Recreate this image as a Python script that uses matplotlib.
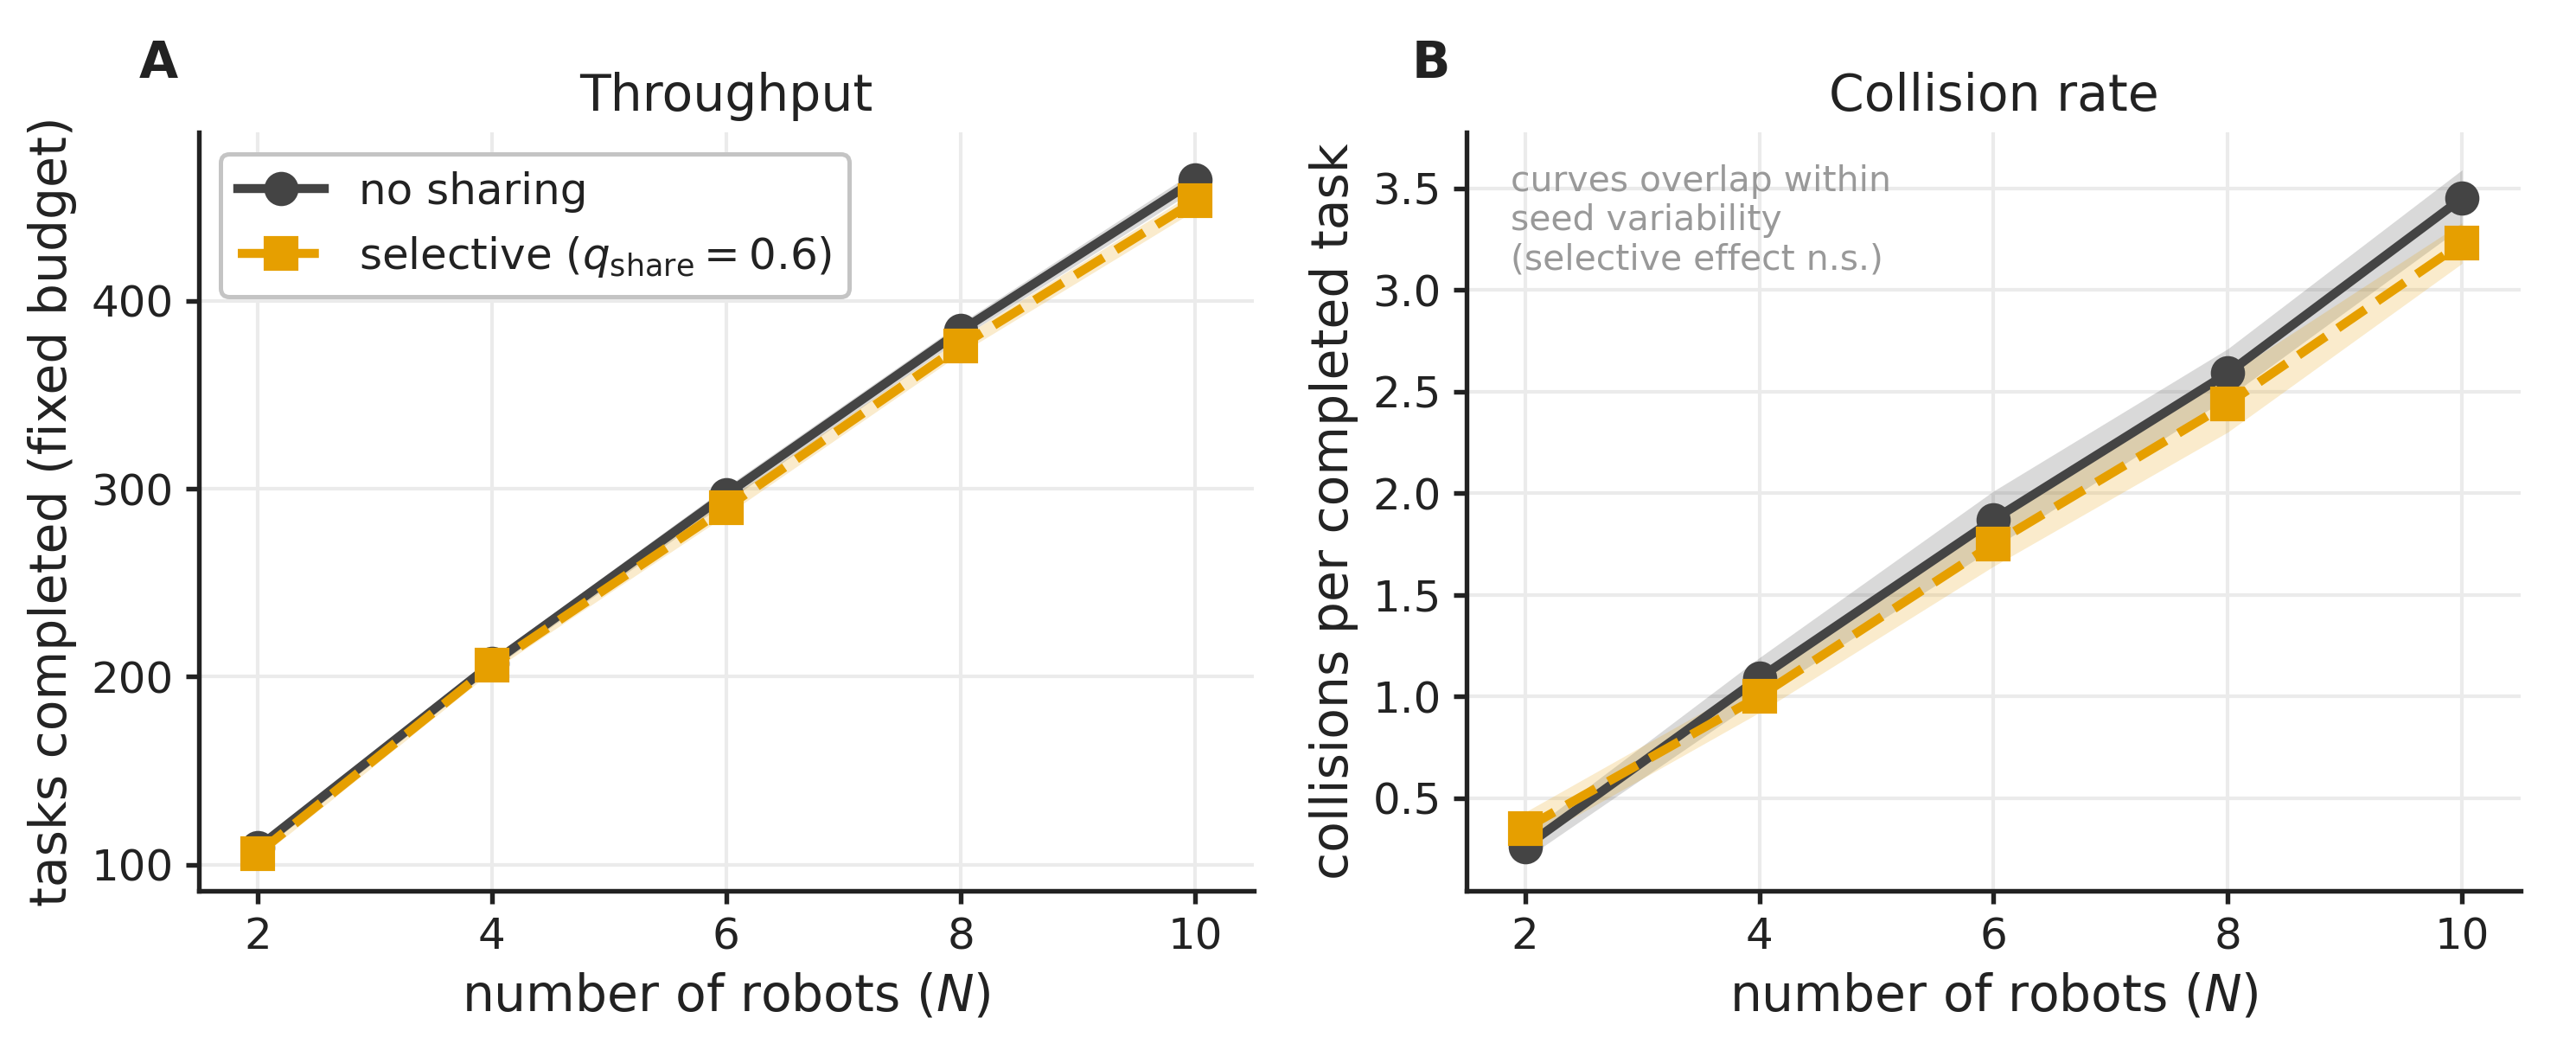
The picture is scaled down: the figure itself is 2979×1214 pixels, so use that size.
import numpy as np
import matplotlib
matplotlib.use("Agg")
import matplotlib.pyplot as plt

# ---------------- data ----------------
n_robots = [2, 4, 6, 8, 10]

thr_none = [109, 207, 297, 384, 464]
thr_none_ci = [3, 3, 4, 4, 5]
thr_sel = [106, 206, 290, 376, 453]
thr_sel_ci = [3, 3, 4, 4, 5]

col_none = [0.26, 1.09, 1.87, 2.59, 3.45]
col_none_ci = [0.06, 0.10, 0.14, 0.12, 0.14]
col_sel = [0.35, 1.00, 1.75, 2.44, 3.23]
col_sel_ci = [0.08, 0.08, 0.11, 0.14, 0.10]

x_ticks = [2, 4, 6, 8, 10]
thr_yticks = [100, 200, 300, 400]
col_yticks = [0.5, 1.0, 1.5, 2.0, 2.5, 3.0, 3.5]

label_none = "no sharing"
label_sel = r"selective ($q_{\mathrm{share}} = 0.6$)"
note = "curves overlap within\nseed variability\n(selective effect n.s.)"

# ---------------- style ----------------
DARK = "#444444"
ORANGE = "#E69F00"
TXT = "#222222"
plt.rcParams.update({
    "font.family": ["DejaVu Sans"],
    "text.color": TXT,
    "axes.labelcolor": TXT,
    "xtick.color": TXT,
    "ytick.color": TXT,
    "axes.edgecolor": TXT,
    "axes.linewidth": 1.3,
    "xtick.major.width": 1.3,
    "ytick.major.width": 1.3,
    "xtick.major.size": 3.5,
    "ytick.major.size": 3.5,
    "xtick.labelsize": 12,
    "ytick.labelsize": 12,
    "axes.labelsize": 14,
    "axes.titlesize": 14,
    "legend.fontsize": 12,
})

fig = plt.figure(figsize=(2979 / 300, 1214 / 300), dpi=300)
axA = fig.add_axes([0.0772, 0.1516, 0.4095, 0.7224])
axB = fig.add_axes([0.5693, 0.1516, 0.4092, 0.7224])


def draw(ax, m1, c1, m2, c2):
    x = np.array(n_robots)
    m1, c1, m2, c2 = map(np.array, (m1, c1, m2, c2))
    ax.grid(True, color="#ebebeb", linewidth=1.0, zorder=0)
    ax.set_axisbelow(True)
    ax.fill_between(x, m1 - c1, m1 + c1, color=DARK, alpha=0.2, linewidth=0, zorder=1)
    ax.fill_between(x, m2 - c2, m2 + c2, color=ORANGE, alpha=0.2, linewidth=0, zorder=1)
    ax.plot(x, m1, "-", color=DARK, lw=2.5, marker="o", ms=8.5, label=label_none, zorder=3)
    ax.plot(x, m2, "--", color=ORANGE, lw=2.5, marker="s", ms=8.5, label=label_sel, zorder=4)
    ax.set_xticks(x_ticks)
    ax.set_xlim(1.5, 10.5)
    ax.set_xlabel(r"number of robots ($N$)")
    for s in ("top", "right"):
        ax.spines[s].set_visible(False)


draw(axA, thr_none, thr_none_ci, thr_sel, thr_sel_ci)
axA.set_ylim(86.2, 489.5)
axA.set_yticks(thr_yticks)
axA.set_ylabel("tasks completed (fixed budget)")
axA.set_title("Throughput", pad=6)
leg = axA.legend(loc="upper left", frameon=True, fancybox=True, framealpha=1.0,
                 edgecolor="#c4c4c4")
leg.get_frame().set_linewidth(1.2)

draw(axB, col_none, col_none_ci, col_sel, col_sel_ci)
axB.set_ylim(0.043, 3.775)
axB.set_yticks(col_yticks)
axB.set_ylabel("collisions per completed task")
axB.set_title("Collision rate", pad=6)
axB.text(0.042, 0.958, note, transform=axB.transAxes, ha="left", va="top",
         fontsize=9.8, color="#999999", linespacing=1.17)

axA.text(-0.057, 1.072, "A", transform=axA.transAxes, fontsize=14,
         fontweight="bold", ha="left", va="baseline")
axB.text(-0.052, 1.072, "B", transform=axB.transAxes, fontsize=14,
         fontweight="bold", ha="left", va="baseline")

fig.savefig("out.png", dpi=300)
